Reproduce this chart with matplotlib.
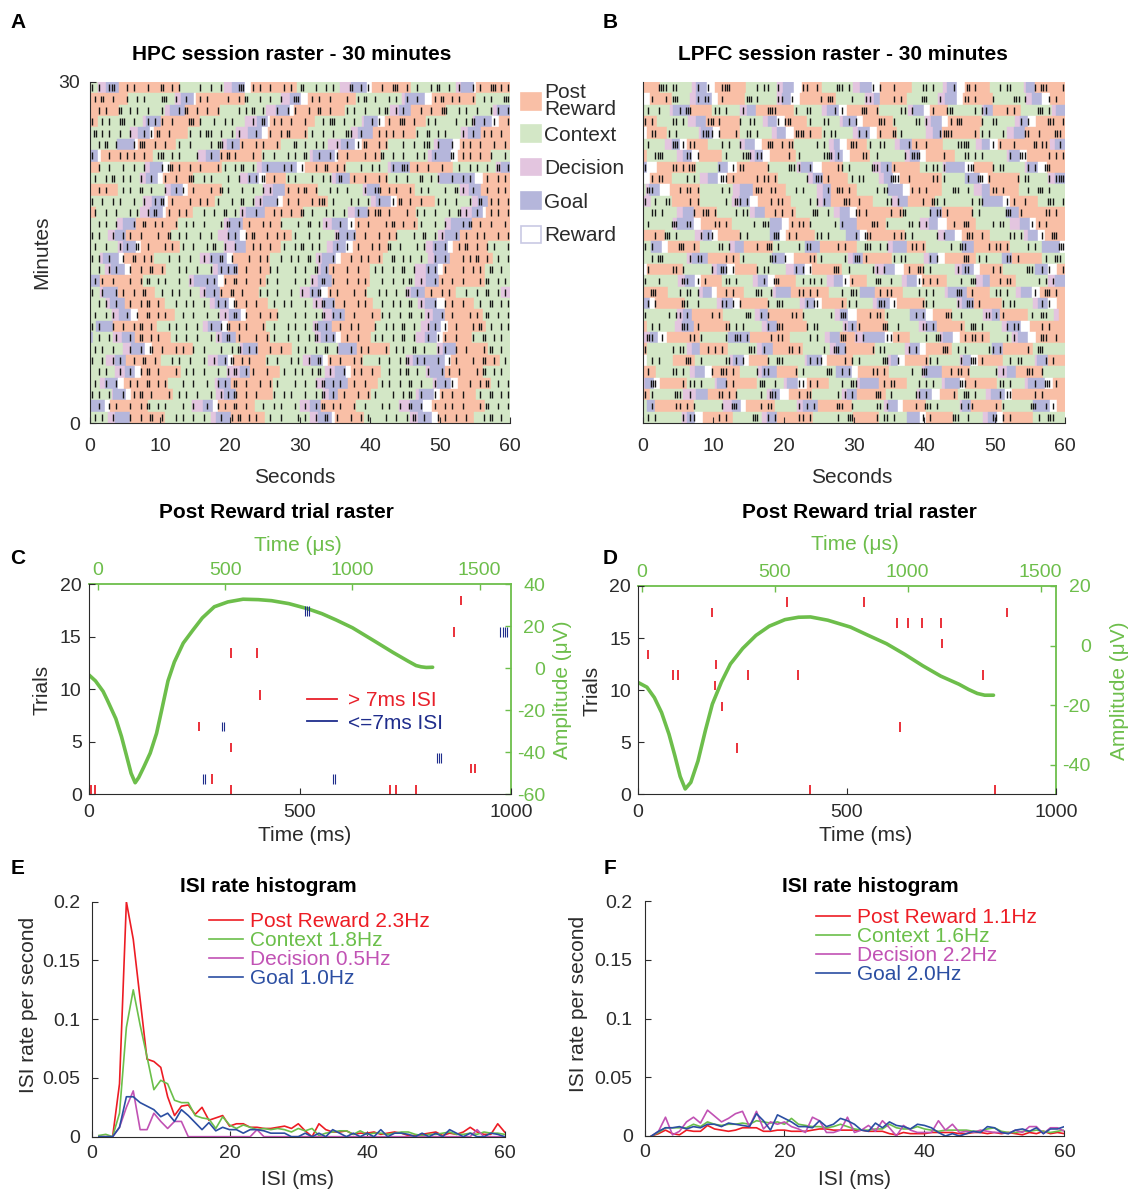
import numpy as np
import matplotlib
matplotlib.use('Agg')
import matplotlib.pyplot as plt
from matplotlib.patches import Patch
from matplotlib.lines import Line2D

plt.rcParams['font.family'] = ['Liberation Sans', 'DejaVu Sans']
plt.rcParams['xtick.direction'] = 'in'
plt.rcParams['ytick.direction'] = 'in'
plt.rcParams['axes.unicode_minus'] = False

# ---------------- data ----------------
# session rasters: one row per minute (top row = minute 30), tokens are epoch letter + end time (s)
# p = post reward, c = context, d = decision, g = goal, r = reward
hpc_epochs = [
    "c1.1 d2.3 g4.2 p12.8 c19.2 d20.3 g22.1 r23 p29.5 c35.7 d37.3 g39.6 r40.3 p45.9 c52.3 d53 g54.9 r55.2 p60",
    "p5.4 c12.1 d13 g14.9 r15.2 p22.1 c27.3 d28.5 g30.2 r31.1 p38 c44.5 d45 g47.8 r48.8 p55.2 c60",
    "p4.2 c10.7 d11.4 g13.5 p18.5 c25.2 d26.6 g28.5 r29.2 p36.4 c42.8 d44.2 g45.9 p50.9 c57.6 d58.1 g60",
    "p1.2 c7.6 d8 g10.2 p15.7 c22.1 d23.8 g25.4 r25.7 p32.1 c38.8 d39.2 g41.1 r42.1 p48 c54.7 d55 g57.4 r58.4 p60",
    "c5.7 d6.9 g8.5 r9.2 p14 c20.9 d22.6 g24.5 r25.4 p31.1 c37.3 d38.3 g40.4 p46.6 c53 d54 g55.9 p60",
    "c3.8 g6.4 r6.9 p12.3 c18.8 d19.5 g21.4 p27.3 c34 d35.9 g37.8 r38.8 p42.6 c49.2 d49.7 g51.9 r52.8 p60",
    "g1.1 r1.6 p9 c15.4 d16.6 g18.5 p24.5 c31.4 d31.8 g35 r35.4 p41.6 c48.3 d48.8 g51.6 r52.6 p57.3 c60",
    "p1.4 c7.8 d8.5 g10.4 r11.4 p18.8 c23.8 d24.5 g29.5 r30.7 p36.6 c42.6 d43 g45.7 p51.8 c58 d58.7 g60",
    "c7.1 d8 g9.7 r10.4 p14.7 c21.4 d22.6 g24.2 r25.2 p28 c34.5 d35.2 g37.1 p42.6 c49.7 d50 g55 r56.1 p60",
    "p4 c10.7 d11.6 g13.3 r14 p18.8 c24.7 d26.2 g27.8 p32.6 c39 d39.5 g41.4 p46.4 c52.8 d54.2 g55.9 p60",
    "c7.6 d8.8 g10.7 r11.1 p17.8 c23.5 d24.7 g26.9 r27.6 p34 c40.2 d40.9 g43 r43.8 p49.3 c54.5 d55.4 g56.9 p60",
    "p0.9 c7.1 d8.5 g10.4 r10.9 p14.7 c21.4 d22.3 g25 p30.4 c36.9 d37.8 g39.7 p46.6 c53 d54.5 g56.2 r56.6 p60",
    "c3.8 d4.7 g6.6 p12.6 c19.2 d19.9 g21.8 p27.3 c33.3 d34.5 g36.9 r37.8 p46.9 c50.7 d51.6 g54.5 p60",
    "c2.6 d3.5 g5.2 p11.6 c18.3 d19.7 g21.4 r22.3 p28.8 c35 d35.5 g38 p43.8 c49.7 d50.7 g52.8 p60",
    "c4 d4.7 g6.6 r7.3 p12.8 c19.2 d20.7 g22.3 p27.3 c33.8 d34.7 g36.6 r37.6 p42.6 c48 d49 g51.1 r51.9 p56.9 c60",
    "c1.4 d1.8 g4.2 r4.9 p9.2 c15.7 d17.1 g19.5 r20.4 p25.7 c32.3 d33.1 g35.2 r35.9 p41.9 c48.3 d49.2 g51.4 p57.6 c60",
    "c2.1 d3 g5 r5.9 p10.9 c17.6 d18.3 g21.1 p25.7 c32.6 d33 g34.2 p40 c46.4 d48 g49.7 r50.4 p56.4 c60",
    "g1.4 p7.6 c14.2 d14.9 g18.3 r19.2 p25.2 c31.6 d32.6 g34.5 p40 c46.4 d48 g49.9 p56.4 c60",
    "c1.4 d1.8 g4 p9.3 c15.7 d16.6 g18.5 p24.2 c30 d31.4 g33 r34 p39.5 c45.2 d45.9 g47.8 p52.3 c58.7 d60",
    "c2.3 d2.8 g5 p10.7 c17.1 d17.8 g19.9 r20.7 p25.4 c31.9 d33.3 g35 p40.4 c46.9 d47.8 g49.5 r50.7 p54.9 c60",
    "c3.1 d4.2 g5.9 r6.9 p12.1 c18.5 d19.9 g21.6 r22.3 p26.9 c33.3 d34.5 g36.4 p41.6 c47.8 d49 g50.7 p56.1 c60",
    "c0.9 g3.3 p9.5 c16.1 d16.9 g18.8 r19.7 p25.2 c31.9 d32.6 g34.5 p40.7 c47.3 d48.5 g50.2 r51.1 p56.6 c60",
    "g0.4 c3.3 d4.5 g6.4 p11.6 c18 d18.8 g20.9 p25.7 c32.1 d33 g35.2 r35.9 p40.2 c46.6 d47.8 g49.5 r50.4 p54.5 c60",
    "c4.7 d5.9 g7.8 r8.8 p14.7 c21.4 d21.8 g24 p28.8 c35.4 d35.6 g38.1 p42.8 c49.5 d50.4 g52.3 p56.9 c60",
    "c2.3 d3.5 g5.2 p10.2 c16.9 d18.3 g19.7 r20.4 p25.2 c30.4 d31.6 g33.3 r34 p39 c45.2 d46.1 g50.7 r51.6 p58.5 c60",
    "c3.5 d5 g6.4 r7.3 p13 c19.5 d21.4 g22.8 p27.1 c33.5 d35 g36.6 r37.3 p41.6 c48 d48.5 g50.7 p56.1 c60",
    "c1.4 d2.1 g4 r4.9 p11.1 c17.8 d18.3 g20.2 p26.1 c32.3 d33.5 g36.9 p41.1 c49 d49.5 g51.6 r52.6 p57.3 c60",
    "c3.1 d3.3 g5.2 r5.9 p11.9 c18 d19.2 g20.9 p26.1 c33.3 d34.2 g35.4 p40.2 c46.6 d47 g49.2 r50 p55.2 c60",
    "g2.1 r2.8 p8.3 c14.5 d16.1 g17.6 r18.3 p23.5 c30 d31.4 g33 p38 c44.2 d45.7 g47.6 r48.8 p56.4 c60",
    "c2.6 d3.5 g5.7 p10.7 c17.3 d18 g20.2 p25 c31.4 d32.6 g34.5 r35 p39.2 c45.7 d46.9 g48.8 r49.7 p54.9 c60",
]
lpfc_epochs = [
    "p2.4 c6.9 d7.6 g9.1 r10.2 p14.7 c19 d19.9 g21.4 r22.6 p25.4 c29.9 d30.9 g32.5 r33.7 p38.2 c42.7 d43.2 g44.6 r45.8 p49.3 c54.1 d54.5 g55.7 p60",
    "r1 p4.1 c6.7 d7.6 g9.8 r10.7 p14.5 c19 d19.7 g21.1 r22.3 p27.5 c31.6 d32.8 g33.7 p37.5 c42 d42.9 g44.6 r45.5 p49.8 c54.5 d55.3 g56.7 r57.9 p60",
    "c3.8 d4.3 g6.7 p9.8 c13.8 d14.8 g16 p21.4 c25.4 d26.1 g27.8 r29 p33.5 c37.7 d38.4 g39.9 r40.8 p43.4 c48.2 d48.5 g49.8 p53.8 c58.1 d58.7 g60",
    "p2 c6.4 d7.6 g9 p13.8 c17.1 d17.8 g19 r20.2 p23.3 c28 d28.4 g30.4 r31.3 p35.5 c40.1 d41 g42.5 r43.4 p48.2 c52.9 d53.6 g54.8 r55.9 p60",
    "r0.5 p3.4 c7.9 d8.2 g10 r11 p13.8 c18.3 d19 g20.4 r21.4 p25.4 c29.9 d30.6 g32.3 r33.2 p36.1 c40.3 d41.3 g42.5 p47.9 c51.7 d52.7 g54.3 p60",
    "c3.1 d4.1 g5.3 r6.2 p9.3 c13.8 d14.5 g15.9 r16.9 p21.4 c26.4 d27.1 g28 r29 p31.8 c35.8 d36.5 g38.2 p42.7 c47.4 d48.2 g49.3 r50.5 p57.9 d58.6 g60",
    "p0.5 c4.8 d5.7 g6.9 r7.9 p11.2 c15.2 d15.9 g17.1 r18.1 p21.8 c26.6 d27.3 g28.5 r29.4 p32.3 c37.3 d38 g39.4 r40.3 p44.4 c51.7 d52.1 g53.6 r54.6 p60",
    "g0.5 r2 p7.6 c10.7 g12.1 r13.3 p17.8 c21.9 d22.4 g24.2 r25.4 p28.5 c32.7 d33.9 g35.4 p39.4 c42.7 d43.1 g45.8 r47 p49.8 c54.3 d54.6 g56.2 r57.4 p60",
    "r1 p4.1 c8.1 d9.3 g10.7 r11.9 p19.2 c23.5 d24.2 g25.6 p29.2 c33.5 d34.2 g35.6 r36.5 p42.5 c45.8 g47.9 r49.1 p53.6 c57.6 d58.6 g60",
    "c0.4 d0.8 g2.4 r3.8 p8.1 c12.8 d13.8 g15.7 p20.4 c24.7 d25.6 g26.8 p30.4 c34.9 g37 r37.9 p42.5 c47 d48.2 g49.3 p53.4 c60",
    "d1.2 c4.1 p8.1 c12.6 d13.6 g15.2 r16.4 p21.1 c24.7 d25.6 g26.8 p32.7 c35.4 d36.3 g37.7 p41.5 c48.2 g51.2 r52.2 p56.2 c60",
    "c4.8 d5.7 g7.2 p10.5 c15.2 d15.9 g17.3 p21.8 c27.1 d28 g29.4 r30.4 p37 c40.8 g42.5 p46.9 c51.6 g53.4 p60",
    "c4.3 d4.8 g7.2 r8.3 p12.6 c18.1 g19.7 r20.7 p23.7 c28 g30.4 p34.6 c39.4 d40.6 g42 r43.2 p47.4 c52.2 d53.6 g55 r55.9 p60",
    "p3.1 c7.4 d8.6 g9.8 r10.7 p13.8 c18.1 g19.5 r20.4 p24.5 c28.9 g30.9 r31.8 p37.3 c41.9 d43 g44.4 r45.3 p49.3 c54.1 d54.8 g56.2 r57.2 p60",
    "c1.2 g2.7 r3.6 p8.1 c12.4 d13.1 g14.3 p18.5 c23 g25.2 p30.4 c34.9 d35.6 g37.5 p40.3 c45.3 g47 p52.2 c56.7 g59.3 r60",
    "c6.2 d6.9 g9.3 p13.8 c18.3 g20.2 r21.4 p24.7 c29.2 d29.9 g31.3 p35.4 c39.9 d40.6 g42 r42.9 p47.4 c51 g52.4 p56.7 c60",
    "r0.5 p5.7 c9.8 d10.5 g11.9 r13.1 p16.2 c20.4 d21.4 g23 r24 p28.3 c33 d34.2 g35.9 r37.1 p39.9 c44.4 d45.3 g47 r47.9 p51.2 c55.7 g57.6 r58.8 p60",
    "c5 d6 g7.4 r8.3 p11.2 c15.7 d16.4 g17.8 r18.8 p21.8 c26.1 d27.1 g28.5 r29.4 p31.8 c36.8 d37.5 g38.9 r39.6 p43.2 c47.4 d48.4 g49.3 p53.1 c57.6 d58.6 g60",
    "p3.6 c7.9 d8.6 g9.8 r10.5 p14.3 c18.5 d18.9 g21.1 p26.4 c30.9 g33 p37 c43 d43.4 g46 p49.3 c53.1 d53.8 g55.3 r56.4 p60",
    "g1 r1.7 p6 c10.5 d11.2 g12.8 r13.8 p17.8 c22.3 d23 g24.5 r25.4 p29 c32.7 d33.2 g35.1 r36.1 p40.1 c44.6 d45.3 g47 p51 c55.5 d56.2 g57.6 r58.8 p60",
    "c4.8 d5.7 g6.9 p11.4 c15.9 d16.6 g17.8 p22.8 c27.3 d28 g29.2 r30.4 p34.4 c37.9 g40.3 r41.3 p43.9 c48.4 d49.6 g50.8 p54.7 c58.4 d59.1 p60",
    "p0.5 c4.6 d5.5 g7.2 p12.4 c16.9 d17.6 g19 p23.3 c28.5 d29.2 g30.4 p34.9 c39.2 d40.3 g41.8 p45.8 c51 d51.7 g53.8 r55 p60",
    "d1 g2.2 r3.4 p8.1 c12.1 g15.2 p20.9 c25.9 d26.6 g28 p30.1 d31.3 g34.4 r35.5 p38 c42.2 d42.7 g44.1 r45 p49.3 c52.4 d53.3 g54.8 r55.9 p60",
    "p0.5 c6.2 d6.9 g8.1 p12.1 c16.2 d16.9 g18.5 p22.8 c26.6 d27.5 g28.9 p33 c37.3 d38 g39.4 r40.3 p43.9 c49.6 g51.2 p55.5 c60",
    "r0.5 c4.3 p7.4 c12.4 d12.8 g14.3 r15 p17.8 c23 d23.3 g25.4 r26.1 p29.9 c34.9 d35.2 g36.3 r37.3 p40.6 c45.1 d45.5 g46.7 r47.6 p51.2 c55.7 d56 g57.6 p60",
    "p1.9 c6.7 d7.4 g8.8 r9.8 p13.8 c16.4 d16.9 g19 p22.1 c27.5 g29.7 r30.6 p35 c39.6 d40.1 g42.5 p46.5 c50.5 d51.7 g53.1 p56.9 c60",
    "d0.3 g1.5 r2.4 p6.2 c10.2 d10.5 g11.9 p16.2 c20 d20.5 g22.1 r23.3 p26.4 c30.4 d30.9 g33.5 p37.5 c42.5 d42.9 g45.1 r45.8 p50.3 c54.3 d54.8 g57.2 r58.3 p60",
    "p1 c5.7 d7.6 g9.3 p13.3 c17.6 d18.3 g19.5 r20.7 p24 c28.3 d29 g30.4 p34.6 c38.9 d39.4 g41.1 r42.2 p44.8 c48.8 d49.5 g51.4 r52.4 p60",
    "c0.5 g1.7 p7.2 c11.4 d12.6 g14 r14.7 p18.8 c21.9 d22.8 g24.9 p29.7 c34.2 d34.9 g36.3 r37 p40.3 c45.1 d45.3 g46.7 p51 c55.5 g57.9 r58.8 p60",
    "c5.5 d6.2 g7.4 r8.6 p12.8 c16.9 d17.6 g19 p24.2 c29.9 p33.5 c37.5 g39.4 r40.3 p44.1 c48.4 d49.1 g50.3 r51.2 p55.5 c60",
]
# spikes per 0.5 s bin ('|' one spike, ':' two spikes), same row order
hpc_spikes = [
    "|.|..|:...|.|...|...:..|.|.....|..|..|....|:..|.|..|...|.|..:...|..|.|....:..|.|...|..|:..|..|...|.:..|..|...|.|..|:.|.|..",
    ".|.:..|...|..|.|....|:..|..|...|.|.....|..|.:...|..|..|...:|...|.|..|....|..|.:..|...|.|..|..|....|.:..|.|...|..|.|...:|..",
    "..|.|...:..|.|..|...|....|.:..|..|..|.....|.|.:..|...|..|.|...|..:..|....|.|..|...|.:..|.|....|..|..|:...|.|..|...|.|..|.",
    "|..|.|..|:..|...|.|.|..|....:|.|...|..|.|.....|..:..|.|..|...|....|.|:..|..|....|.|..|..|:..|...|.|.....|..|.:..|..|...|.",
    ".:.|.|..|..|...|.|.:..|.....|..|.:|..|..|.|....|...|..|.:....|.|..|..|...:|..|....|.|.|..|...|..:..|.|....|..|..|.|..|...",
    "..|.:..|....|.:|..|..|...|..|.....|.|:..|..|...|.|...|....:..|..|.|...|..|..|.:...|.|....|..|..|:..|...|..|.|..|...|..|..",
    "|....|..|.|.|..|...|:..|.|....|...|..|.:.|....|..|..|...|.|..:...|..|.|..|....|..|.:..|..|...|.|..|....:..|.|..|..|...|..",
    "..|..|...|..|..|....|.:|.|..|..|....|.|..|.:..|...|....|.|..|...|..:..|.|....|..|.|...|..:|..|..|...|....|..|.|..|..:..|.",
    ".|..|.:..|.|..|..|...|..|...:|..|.|....|..|..|.|.:..|...|.|....|..|.|..:...|..|...|.|..|..|...:..|.|...|..|.|....|..|.|..",
    "..|.|....|.|..:..|...|..|.|..|....|..:.|...|..|..|.|....|..|.:..|...|.|..|....|..|:..|.|...|..|.|....|..:.|..|...|..|.|..",
    "|..|..|.|...|..|..|.:..|....|..|.|..|...|..:..|.|....|..|..|...|.|:..|....|.|..|..|...|.:..|..|....|.|..|...|..:..|.|..|.",
    ".|..|..|...|.|..|.:...|..|.|....|..|..:..|.|...|....|.|..|..:..|...|.|..|...|..|.|:..|....|..|.|..|...|..:.|..|...|.|..|.",
    "..|.|..|....|..:..|.|...|..|.|..|....|.:..|..|...|.|..|....|..:..|.|...|..|.|..|....|.:..|..|.|...|..|....|.:..|..|...|.|",
    "|.|...|..|.|..|....|..:..|.|...|..|....|.|..|.:...|..|.|..|...|..|....:..|.|..|...|..|.|....|..:..|.|...|..|..|.|...|..|.",
    ".|..|...|.|..:..|....|.|..|..|...|.:..|..|....|.|..|...|..|.:..|.|....|..|..|...|.|..:..|....|.|..|..|...|.:..|..|.|...|.",
    "|.|..|...|..:..|.|....|..|..|...|.|..:..|....|..|.|...|..|.|..:..|...|....|..|.|..|...:..|.|..|...|..|....|.|.:..|..|..|..",
    "..|..|.|...|..|..:..|....|.|..|...|..|.|.:..|...|..|.|....|..|..:..|.|...|..|....|.|..|..:..|...|.|..|....|..|.|..:..|..|.",
    ".|.|..|....|..|.:..|.|...|..|....|.|..|..:..|...|.|..|....|..|.|..:..|...|..|.|....|..|..|.:..|...|.|..|..|....|.:..|.|..|",
    "|..|...|.|..|..:....|..|.|..|...|..|.|..:..|....|.|..|...|..|..|.:..|.|....|..|...|.|..|..:..|...|..|.|....|..|..:..|.|..|",
    "..|.|..|...|..|.:..|....|..|.|..|...|.|..:..|..|....|..|.|...|..|.:..|..|...|.|....|..|.|..:..|...|..|.|..|....|..:..|.|...",
    ".|..|.|...|..|..:..|.|....|..|...|..|.|..:..|...|..|.|....|..|..|.:..|.|...|....|..|.|..|..:..|.|...|..|....|.|..:..|..|.|",
    "|.|...|..|..|.:..|....|.|..|..|...|..|.:..|.|....|..|...|.|..|..:..|...|..|.|....|..|.|..:..|...|.|..|..|....|.:..|..|.|..",
    "..|..|.|...|..:..|.|....|..|..|...|.|..:..|....|..|.|...|..|..|.:..|.|...|..|....|.|..|..:..|...|..|.|..|....|..:..|.|..|.",
    ".|.|..|....|..|..:..|...|.|..|..|....|..|.:..|.|...|..|....|.|..|..:..|...|..|.|....|..|.|..:..|...|.|..|..|....|.:..|..|.",
    "|..|..|.|...|..:..|....|.|..|...|..|..|.:..|.|....|..|...|.|..|..:..|..|...|.|....|..|..|.:..|.|...|..|.|....|..:..|..|.|",
    "..|.|...|..|..|.:..|....|..|.|..|...|..|.:..|.|...|....|..|.|..|.:..|...|..|.|..|....|..|.:..|..|...|.|..|....|.:..|.|..|.",
    ".|..|..|...|.|..:..|.|....|..|...|..|.|..:..|...|..|.|....|..|..|.:..|.|...|..|....|.|..|..:..|...|..|.|....|..|.:..|..|..",
    "|.|..|...|..|.:..|....|..|.|..|...|..|.|.:..|..|....|..|.|...|..|.:..|..|...|..|.|....|..|.:..|...|.|..|..|....|..:..|.|..",
    "..|..|.|...|..|.:..|.|....|..|...|..|.|..:..|....|..|.|...|..|..|.:..|.|...|..|....|.|..|..:..|...|..|.|..|....|.:..|..|.|",
    ".|.|..|....|..|..:..|...|.|..|..|....|..|.:..|.|...|..|....|.|..|..:..|...|..|.|....|..|..|.:..|...|.|..|..|....|.:..|..|.",
]
lpfc_spikes = [
    "....|:|.||.....|..|...|:|.......|.||..|......||..|.....:|.|......|.|...|.......||.|.....|...:.|......|.||......|.:|....|...",
    "..|...|.|:.....|.||...|......|:.|.....||..|.......|.|:.....|...||......|.|.....:|...|......||.|....|.....|:.|......|.|...|.",
    ".|..|.....|.:|......||.|....|......|:|.....|..||......|.|.....:|..|......||.|.....|...|:......|.||.....|.|......:|.|....|..",
    "|.|.....||.|......|:.|.....|..||......|.|:.....|...||.....|.|......:|..|.....||.|......|.:|.....|..||......|.|.....:|..|...",
    "..||...|.|.......:||.|....|..||.|..........|:|.|...|.||......|.|...|...:.|..........||:|......|.|.|...|.....||..|....:|....",
    ".|......|:.|.||.......|.|..|.......|:..|.||......|.|.......:|...|..||......|.|..|........||:|......|.|...|.....:.||...|....",
    "...|:|......||.|.......|....|:|.||.......|..|......|:|.|......||..|.......|.|:|......|.....||.|.|.......|..:|......|.|.|...",
    "|.......||.|.:|......|...|.||......|.....|:.|..|.......||.|......:|..|.|........|.||.|......|:.....|.||......|.|..:|......",
    "..|.||......|.|.......:|.|......|.||.|........|..:|.|......|.||.......|:|..|......||.|......|..:|.|.......|.||.....|.|:|...",
    ".:|.......|.||.|......|.|.......:|..||.....|.|......|..:|.|.......|.||......|.|.|.......:|..|......||.|......|..:|.|......",
    "|..|..||.....|.|.......|..:|.|......|.||.......|.|.|.....:|..|.......||.|......|..:|.|.......|.||......|.|..|......:|..|..",
    "..||.|........|..:|.|.....|.||.......|.|..|.....:|..|.......||.|......|..:|......|.||.|......|.|.......:|..|......||.|..|.",
    ".|......:|..||......||.|.......|..:|......|.||.|......|.|........:|..|.....||.|.|.......|..:|......|.||.......|.|.|.....:|.",
    "...|..:|.|......|.||.......|.|.......:|..|.|.....||.|.......|..:|......|.||.|......|.|......:|..|.......||.|.....|..:|....|",
    "|.|.......:|..|......||.|.......|..:|.|.....|.||.......|.|.....:|..|.|......||.|.......|..:|......|.||.|.....|.|......:|..",
    "..|.:|.......|.||......|.|..|.......:|..|......||.|......|..:|.|.......|.||......|.|.......:|..|.|.....||.|.......|..:|....",
    ".|......||.|.......|..:|.|......|.||.......|.|.|......:|..|......||.|......|..:|.|.......|.||......|.|.......:|..|.|...||..",
    "|...|......:|..|.|.....||.|.......|..:|......|.||.|......|.|......:|..|.......||.|.|......|..:|......|.||.......|.|.|....:|",
    "..:|......|.||.|.......|.|......:|..|.......||.|.|......|..:|......|.||.......|.|.|......:|..|......||.|.......|..:|.|.....",
    ".|.|.......:|..|......||.|.|.......|..:|......|.||......|.|.|......:|..|.......||.|......|..:|.|......|.||.......|.|......",
    "|......|.||.|......|.|.......:|..|.|......||.|.......|..:|......|.||.|.......|.|......:|..|......||.|.|.......|..:|......|.",
    "..|.|......:|..|.......||.|.|......|..:|......|.||.......|.|.|......:|..|......||.|.......|..:|.|......|.||......|.|.......",
    ".:|..|.......||.|......|..:|.|......|.||.......|.|......:|..|.|......||.|.......|..:|......|.||.|......|.|.......:|..|.....",
    "|.......|.||......|.|.|.......:|..|......||.|......|..:|.|.......|.||......|.|.......:|..|.|......||.|.......|..:|......|.",
    "..|.|.......:|..|......||.|.|......|..:|.......|.||......|.|.|......:|..|.......||.|......|..:|.|.......|.||......|.|.....",
    ".|......||.|.......|..:|.|......|.||.......|.|......:|..|.|......||.|.......|..:|......|.||.|.......|.|......:|..|......||",
    "..:|.......|.||.|......|.|.......:|..|......||.|.|......|..:|.......|.||......|.|.|.......:|..|......||.|......|..:|.|.....",
    "|.|......:|..|.......||.|.|......|..:|......|.||.......|.|.|......:|..|......||.|.......|..:|.|......|.||......|.|.......|",
    "..|......||.|.|.......|..:|......|.||.......|.|.|......:|..|......||.|.......|..:|.|......|.||......|.|.......:|..|.|.....",
    ".|.|.......|.||......|.|.......:|..|.|......||.|.......|..:|......|.||.|.......|.|......:|..|......||.|.|.......|..:|.....",
]

epoch_names = ['Post\nReward', 'Context', 'Decision', 'Goal', 'Reward']
epoch_keys = ['p', 'c', 'd', 'g', 'r']
epoch_colors = ['#F9BFA6', '#D3E7C6', '#E3C5DF', '#B5B6DB', '#FFFFFF']

# Post Reward trial rasters: spike time (ms) and trial index
c_red_ms = [882.6, 864, 338, 399, 405, 261, 338, 904.6, 914.7, 291.6, 5.8, 14.3, 338, 714.4, 727, 775]
c_red_trial = [18, 15, 13, 13, 9, 6, 4, 2, 2, 1, 0, 0, 0, 0, 0, 0]
c_blue_ms = [512, 517, 522, 975, 980, 985, 990, 316, 321, 824, 829, 834, 271, 276, 578, 583]
c_blue_trial = [17, 17, 17, 15, 15, 15, 15, 6, 6, 3, 3, 3, 1, 1, 1, 1]
d_red_ms = [357.6, 540, 176.3, 882.8, 620.6, 646.7, 679.7, 724.9, 727, 23.4, 186.6, 84.2, 95.7,
            262, 383.7, 824.6, 184.2, 201.4, 626.8, 236, 410.5, 855]
d_red_trial = [18, 18, 17, 17, 16, 16, 16, 16, 14, 13, 12, 11, 11, 11, 11, 11, 10, 8, 6, 4, 0, 0]

# mean waveforms (time in microseconds, amplitude in microvolts)
c_wave_us = [-37, -10, 20, 36, 70, 92, 115, 130, 146, 160, 180, 205, 230, 250, 275, 300, 335, 373, 410,
             457, 510, 570, 630, 682, 750, 823, 880, 936, 1000, 1090, 1160, 1220, 1250, 1270, 1290, 1315]
c_wave_uv = [-3, -6, -11, -15, -24, -32.4, -43, -50, -54.5, -52, -47, -40.4, -31, -20, -6, 3, 12, 18.2, 24,
             29.3, 31.6, 32.9, 32.7, 32.2, 30.8, 28.4, 26, 23, 19.3, 12.7, 7.5, 3.3, 1.3, 0.7, 0.4, 0.5]
d_wave_us = [-13.5, 20, 48, 75, 103, 125, 145, 164, 185, 212, 240, 266, 300, 334, 380, 430, 480, 539,
             590, 635, 700, 785, 850, 921, 990, 1057, 1125, 1193, 1230, 1262, 1290, 1323]
d_wave_uv = [-12.4, -14, -17.5, -22.5, -29.8, -37, -44, -48.2, -46, -38.8, -28.5, -19.7, -12.3, -6.2, -1,
             3.4, 6.5, 8.7, 9.5, 9.6, 8.5, 6.2, 3.5, 0.6, -3, -6.8, -10.3, -13, -14.8, -16.1, -16.7, -16.7]

# ISI rate histograms, 1 ms bins from 1 to 60 ms
isi_ms = list(range(1, 61))
e_post = [0, 0, 0, 0.045, 0.2, 0.168, 0.117, 0.066, 0.064, 0.059, 0.034, 0.018, 0.026, 0.027, 0.019,
          0.025, 0.014, 0.016, 0.018, 0.009, 0.011, 0.011, 0.008, 0.008, 0.007, 0.007, 0.008, 0.009, 0.007,
          0.011, 0.005, 0.0, 0.011, 0.006, 0.004, 0.004, 0.005, 0.002, 0.003, 0.003, 0.004, 0.002, 0.003,
          0.004, 0.003, 0.001, 0.001, 0.002, 0.003, 0.004, 0.001, 0.003, 0.002, 0.004, 0.008, 0.004, 0.002,
          0.002, 0.011, 0.004]
e_context = [0.001, 0.002, 0.0, 0.02, 0.093, 0.125, 0.095, 0.068, 0.04, 0.048, 0.045, 0.031, 0.029, 0.029,
             0.018, 0.016, 0.015, 0.007, 0.017, 0.010, 0.007, 0.010, 0.008, 0.006, 0.007, 0.006, 0.007, 0.006,
             0.004, 0.007, 0.005, 0.007, 0.001, 0.003, 0.004, 0.005, 0.005, 0.002, 0.005, 0.002, 0.003, 0.003,
             0.002, 0.003, 0.004, 0.004, 0.002, 0.001, 0.002, 0.002, 0.003, 0.004, 0.002, 0.002, 0.003, 0.002,
             0.004, 0.003, 0.003, 0.002]
e_decision = [0, 0, 0, 0.008, 0.025, 0.039, 0.006, 0.006, 0.02, 0.013, 0.007, 0.013, 0.013, 0, 0, 0, 0, 0,
              0, 0, 0, 0, 0, 0.006, 0, 0, 0, 0, 0, 0, 0, 0, 0, 0, 0, 0, 0, 0, 0, 0, 0, 0, 0, 0, 0, 0, 0, 0,
              0, 0, 0, 0, 0, 0, 0, 0.006, 0, 0, 0, 0]
e_goal = [0, 0, 0, 0.008, 0.034, 0.034, 0.029, 0.026, 0.023, 0.017, 0.02, 0.013, 0.023, 0.018, 0.012, 0.006,
          0.012, 0.005, 0.008, 0.006, 0.006, 0.003, 0.006, 0.006, 0.005, 0.003, 0.003, 0.003, 0.0, 0.0, 0.003,
          0.0, 0.003, 0.0, 0.006, 0.003, 0.0, 0.003, 0.0, 0.003, 0.0, 0.006, 0.0, 0.003, 0.003, 0.002, 0.0,
          0.003, 0.0, 0.003, 0.0, 0.006, 0.003, 0.0, 0.003, 0.0, 0.0, 0.003, 0.002, 0.0]
f_post = [0, 0.002, 0.005, 0.002, 0.001, 0.005, 0.004, 0.004, 0.009, 0.006, 0.005, 0.004, 0.005, 0.007,
          0.007, 0.007, 0.004, 0.004, 0.005, 0.005, 0.004, 0.004, 0.004, 0.005, 0.006, 0.006, 0.005, 0.005,
          0.005, 0.005, 0.005, 0.004, 0.004, 0.004, 0.002, 0.001, 0.003, 0.002, 0.002, 0.002, 0.003, 0.003,
          0.003, 0.003, 0.002, 0.002, 0.003, 0.003, 0.002, 0.003, 0.002, 0.003, 0.002, 0.001, 0.003, 0.002,
          0.004, 0.002, 0.003, 0.002]
f_context = [0, 0.003, 0.007, 0.007, 0.007, 0.007, 0.01, 0.008, 0.012, 0.01, 0.009, 0.01, 0.01, 0.011, 0.01,
             0.013, 0.012, 0.011, 0.012, 0.01, 0.015, 0.01, 0.009, 0.008, 0.008, 0.007, 0.008, 0.01, 0.008,
             0.006, 0.005, 0.005, 0.006, 0.006, 0.01, 0.007, 0.006, 0.006, 0.008, 0.006, 0.005, 0.004, 0.005,
             0.005, 0.005, 0.005, 0.004, 0.004, 0.006, 0.007, 0.004, 0.003, 0.003, 0.004, 0.004, 0.005, 0.004,
             0.003, 0.004, 0.005]
f_decision = [0, 0.004, 0.016, 0.001, 0.004, 0.012, 0.016, 0.011, 0.022, 0.017, 0.012, 0.015, 0.019, 0.021,
              0.008, 0.021, 0.006, 0.012, 0.01, 0.012, 0.008, 0.006, 0.003, 0.016, 0.013, 0.003, 0.003, 0.005,
              0.016, 0.003, 0.005, 0.009, 0.004, 0.013, 0.007, 0.0, 0.009, 0.005, 0.003, 0.003, 0.003, 0.013,
              0.005, 0.01, 0.003, 0.004, 0.003, 0.005, 0.004, 0.003, 0.003, 0.002, 0.005, 0.003, 0.008, 0.008,
              0.002, 0.007, 0.007, 0.004]
f_goal = [0, 0.004, 0.007, 0.007, 0.008, 0.006, 0.008, 0.007, 0.01, 0.01, 0.008, 0.011, 0.01, 0.009, 0.008,
          0.019, 0.013, 0.005, 0.018, 0.015, 0.012, 0.008, 0.008, 0.007, 0.013, 0.008, 0.01, 0.015, 0.013,
          0.01, 0.005, 0.004, 0.011, 0.007, 0.012, 0.009, 0.008, 0.006, 0.01, 0.009, 0.007, 0.003, 0.0, 0.002,
          0.0, 0.002, 0.004, 0.003, 0.008, 0.007, 0.003, 0.002, 0.005, 0.006, 0.004, 0.007, 0.002, 0.006,
          0.006, 0.008]
e_labels = ['Post Reward 2.3Hz', 'Context 1.8Hz', 'Decision 0.5Hz', 'Goal 1.0Hz']
f_labels = ['Post Reward 1.1Hz', 'Context 1.6Hz', 'Decision 2.2Hz', 'Goal 2.0Hz']

# ---------------- style ----------------
W, H = 1129, 1191
GRAY = '#2B2B2B'
GREEN = '#6DBE4B'
RED = '#E8202A'
NAVY = '#1F2D8C'
LINE_COLORS = ['#ED1C24', '#6BBF4A', '#C152B4', '#2B4EA2']
TICK = 14
LAB = 15


def rect(l, t, r, b):
    return [l / W, 1 - b / H, (r - l) / W, (b - t) / H]


def style(ax, xpad, ypad, spines=('left', 'bottom')):
    for s in ['left', 'right', 'top', 'bottom']:
        ax.spines[s].set_visible(s in spines)
        ax.spines[s].set_color(GRAY)
        ax.spines[s].set_linewidth(0.8)
    ax.tick_params(labelsize=TICK, colors=GRAY, length=4, width=0.8)
    ax.tick_params(axis='x', pad=xpad)
    ax.tick_params(axis='y', pad=ypad)


def draw_session(ax, rows, spikes):
    n = len(rows)
    lefts, widths, bottoms, cols = [], [], [], []
    st, sb, stp = [], [], []
    for i, row in enumerate(rows):
        y = n - 1 - i
        start = 0.0
        for tok in row.split():
            end = float(tok[1:])
            lefts.append(start)
            widths.append(end - start)
            bottoms.append(y)
            cols.append(epoch_colors[epoch_keys.index(tok[0])])
            start = end
        for j, ch in enumerate(spikes[i][:120]):
            if ch == '|':
                st.append(j * 0.5 + 0.25)
            elif ch == ':':
                st += [j * 0.5 + 0.1, j * 0.5 + 0.4]
            while len(sb) < len(st):
                sb.append(y + 0.2)
                stp.append(y + 0.8)
    ax.bar(lefts, [1] * len(lefts), width=widths, bottom=bottoms, align='edge',
           color=cols, edgecolor=cols, linewidth=0.3)
    ax.vlines(st, sb, stp, color='#151515', lw=1.0)
    ax.set_xlim(0, 60)
    ax.set_ylim(0, n)
    ax.set_xticks(range(0, 61, 10))
    style(ax, 11, 7)


fig = plt.figure(figsize=(W / 100, H / 100), dpi=100)

# ---------------- A / B ----------------
axa = fig.add_axes(rect(90, 82, 510, 423))
draw_session(axa, hpc_epochs, hpc_spikes)
axa.set_yticks([0, 30])
axa.set_xlabel('Seconds', fontsize=LAB, color=GRAY, va='center')
axa.xaxis.set_label_coords(0.488, -0.16)
axa.set_ylabel('Minutes', fontsize=LAB, color=GRAY, va='center')
axa.yaxis.set_label_coords(-0.114, 0.5)

axb = fig.add_axes(rect(643, 82, 1065, 423))
draw_session(axb, lpfc_epochs, lpfc_spikes)
axb.set_yticks([])
axb.set_xlabel('Seconds', fontsize=LAB, color=GRAY, va='center')
axb.xaxis.set_label_coords(0.495, -0.16)

handles = [Patch(facecolor=c, edgecolor=(c if k != 'r' else '#C9C9E4'), linewidth=1.2)
           for c, k in zip(epoch_colors, epoch_keys)]
# the two-line "Post Reward" entry sits on its own, the other four share an even spacing
leg_kw = dict(loc='upper left', frameon=False, fontsize=LAB, handlelength=0.95, handleheight=0.87,
              handletextpad=0.15, borderpad=0, borderaxespad=0)
leg1 = fig.legend(handles[:1], epoch_names[:1], bbox_to_anchor=(521 / W, 1 - 83 / H), **leg_kw)
leg2 = fig.legend(handles[1:], epoch_names[1:], bbox_to_anchor=(521 / W, 1 - 125 / H),
                  labelspacing=0.67, **leg_kw)
for lg_ in (leg1, leg2):
    for t in lg_.get_texts():
        t.set_linespacing(0.85)
        t.set_color(GRAY)

fig.text(292 / W, 1 - 54 / H, 'HPC session raster - 30 minutes', fontsize=LAB, fontweight='bold',
         ha='center', va='center')
fig.text(843 / W, 1 - 54 / H, 'LPFC session raster - 30 minutes', fontsize=LAB, fontweight='bold',
         ha='center', va='center')


# ---------------- C / D ----------------
def trial_panel(box, red_ms, red_tr, blue_ms, blue_tr, wave_us, wave_uv, us_lim, uv_lim, uv_ticks,
                xl, yl, rl, tl, rpad):
    axw = fig.add_axes(rect(*box))
    axw.plot(wave_us, wave_uv, color=GREEN, lw=2.6, solid_capstyle='round')
    axw.set_xlim(*us_lim)
    axw.set_ylim(*uv_lim)
    axw.xaxis.tick_top()
    axw.yaxis.tick_right()
    axw.set_xticks([0, 500, 1000, 1500])
    axw.set_yticks(uv_ticks)
    for s in ['left', 'bottom']:
        axw.spines[s].set_visible(False)
    for s in ['top', 'right']:
        axw.spines[s].set_color(GREEN)
        axw.spines[s].set_linewidth(1.3)
    axw.tick_params(labelsize=TICK, colors=GREEN, length=4, width=1.0)
    axw.tick_params(axis='y', pad=rpad)
    for lab in axw.get_yticklabels():
        lab.set_horizontalalignment('right')
    axw.xaxis.set_label_position('top')
    axw.yaxis.set_label_position('right')
    axw.set_xlabel('Time (μs)', fontsize=LAB, color=GREEN)
    axw.xaxis.label.set_va('center')
    axw.xaxis.set_label_coords(*tl)
    axw.set_ylabel('Amplitude (μV)', fontsize=LAB, color=GREEN)
    axw.yaxis.label.set_va('center')
    axw.yaxis.label.set_rotation(90)
    axw.yaxis.set_label_coords(*rl)

    ax = fig.add_axes(rect(*box), facecolor='none')
    ax.vlines(red_ms, np.array(red_tr), np.array(red_tr) + 0.9, color=RED, lw=1.3)
    if blue_ms:
        ax.vlines(blue_ms, np.array(blue_tr), np.array(blue_tr) + 0.9, color=NAVY, lw=0.8)
    ax.set_xlim(0, 1000)
    ax.set_ylim(0, 20)
    ax.set_xticks([0, 500, 1000])
    ax.set_yticks([0, 5, 10, 15, 20])
    style(ax, 7, 5)
    ax.set_xlabel('Time (ms)', fontsize=LAB, color=GRAY, va='center')
    ax.xaxis.set_label_coords(*xl)
    ax.set_ylabel('Trials', fontsize=LAB, color=GRAY, va='center')
    ax.yaxis.set_label_coords(*yl)
    return ax


axc = trial_panel((88.6, 584.3, 511, 794.3), c_red_ms, c_red_trial, c_blue_ms, c_blue_trial,
                  c_wave_us, c_wave_uv, (-37, 1623), (-60, 40), [-60, -40, -20, 0, 20, 40],
                  (0.512, -0.194), (-0.110, 0.497), (1.121, 0.497), (0.496, 1.187), 24.5)
lg = axc.legend([Line2D([], [], color=RED, lw=1.3), Line2D([], [], color=NAVY, lw=1.3)],
                ['> 7ms ISI', '<=7ms ISI'], loc='upper left', bbox_to_anchor=(307 / W, 1 - 691 / H),
                bbox_transform=fig.transFigure, frameon=False, fontsize=LAB, handlelength=1.45,
                handletextpad=0.5, labelspacing=0.17, borderpad=0, borderaxespad=0, labelcolor='linecolor')

axd = trial_panel((638, 586, 1056, 794.3), d_red_ms, d_red_trial, [], [],
                  d_wave_us, d_wave_uv, (-13.5, 1558), (-50, 20), [-40, -20, 0, 20],
                  (0.545, -0.2), (-0.110, 0.497), (1.153, 0.497), (0.519, 1.197), 25)

fig.text(276 / W, 1 - 513 / H, 'Post Reward trial raster', fontsize=LAB, fontweight='bold',
         ha='center', va='center')
fig.text(859 / W, 1 - 513 / H, 'Post Reward trial raster', fontsize=LAB, fontweight='bold',
         ha='center', va='center')


# ---------------- E / F ----------------
def isi_panel(box, series, labels, leg_xy, xl, yl, title_x):
    ax = fig.add_axes(rect(*box))
    lines = []
    for vals, col in zip(series, LINE_COLORS):
        lines += ax.plot(isi_ms, vals, color=col, lw=1.2)
    ax.set_xlim(0, 60)
    ax.set_ylim(0, 0.2)
    ax.set_xticks([0, 20, 40, 60])
    ax.set_yticks([0, 0.05, 0.1, 0.15, 0.2])
    ax.set_yticklabels(['0', '0.05', '0.1', '0.15', '0.2'])
    style(ax, 6, 8.5)
    ax.set_xlabel('ISI (ms)', fontsize=LAB, color=GRAY, va='center')
    ax.xaxis.set_label_coords(*xl)
    ax.set_ylabel('ISI rate per second', fontsize=LAB, color=GRAY, va='center')
    ax.yaxis.set_label_coords(*yl)
    ax.legend(lines, labels, loc='upper left', bbox_to_anchor=(leg_xy[0] / W, 1 - leg_xy[1] / H),
              bbox_transform=fig.transFigure, frameon=False, fontsize=LAB, handlelength=1.65,
              handletextpad=0.3, labelspacing=0.0, borderpad=0, borderaxespad=0, labelcolor='linecolor')
    fig.text(title_x / W, 1 - 886 / H, 'ISI rate histogram', fontsize=LAB, fontweight='bold',
             ha='center', va='center')
    return ax


axe = isi_panel((92, 901.7, 504.6, 1136.7), [e_post, e_context, e_decision, e_goal], e_labels,
                (209, 912), (0.499, -0.184), (-0.155, 0.56), 268)
axf = isi_panel((644.5, 901, 1064.4, 1136), [f_post, f_context, f_decision, f_goal], f_labels,
                (816, 908), (0.501, -0.184), (-0.157, 0.56), 870)

# panel letters
for letter, x, y in [('A', 18, 22), ('B', 610, 22), ('C', 18, 558), ('D', 610, 558),
                     ('E', 18, 868), ('F', 610, 868)]:
    fig.text(x / W, 1 - y / H, letter, fontsize=LAB, fontweight='bold', ha='center', va='center')

fig.savefig('out.png', dpi=100)
